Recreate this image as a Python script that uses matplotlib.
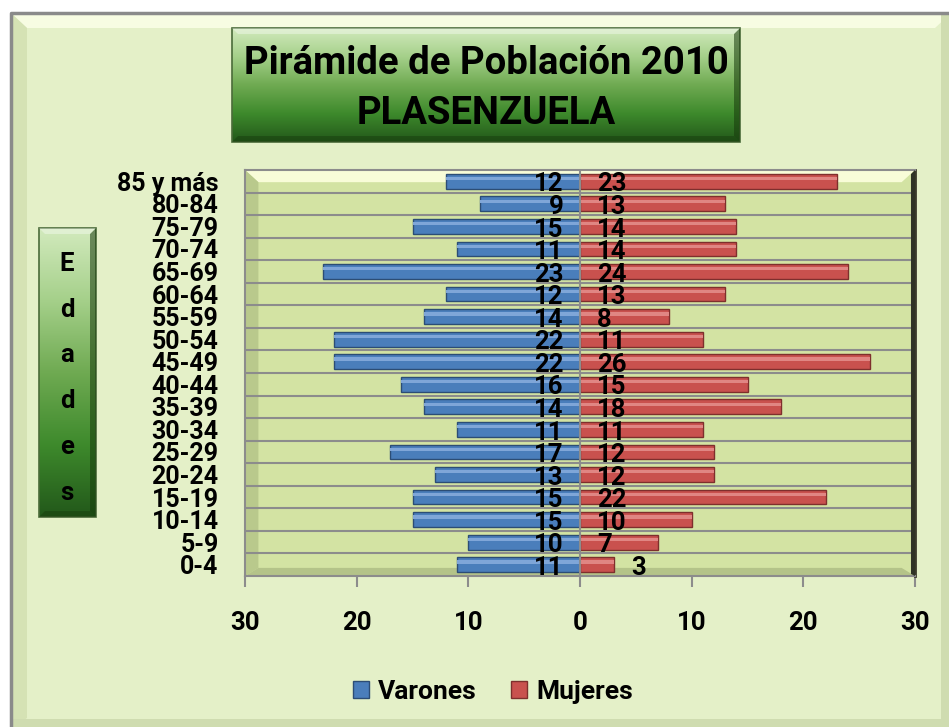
import numpy as np
import matplotlib.pyplot as plt
from matplotlib.colors import LinearSegmentedColormap
from matplotlib.patches import Rectangle, Polygon

FONT = ['Roboto', 'DejaVu Sans']
plt.rcParams['font.family'] = FONT
plt.rcParams['font.weight'] = 'bold'

# Data (bottom to top)
edades = ['0-4', '5-9', '10-14', '15-19', '20-24', '25-29', '30-34', '35-39',
          '40-44', '45-49', '50-54', '55-59', '60-64', '65-69', '70-74',
          '75-79', '80-84', '85 y más']
varones = [11, 10, 15, 15, 13, 17, 11, 14, 16, 22, 22, 14, 12, 23, 11, 15, 9, 12]
mujeres = [3, 7, 10, 22, 12, 12, 11, 18, 15, 26, 11, 8, 13, 24, 14, 14, 13, 23]
xticks = [-30, -20, -10, 0, 10, 20, 30]

W, H = 949, 727
fig = plt.figure(figsize=(W / 100, H / 100), dpi=100)
fig.patch.set_facecolor('white')

# background / decorations in pixel coords
bg = fig.add_axes([0, 0, 1, 1], zorder=-10)
bg.set_xlim(0, W)
bg.set_ylim(H, 0)
bg.axis('off')

bg.add_patch(Rectangle((11, 13), W - 11, H - 13, facecolor='#E4F0C8', edgecolor='none'))
bg.add_patch(Polygon([(13, 15), (W, 15), (W - 14, 28), (27, 28)], facecolor='#F7FCE2', edgecolor='none'))
bg.add_patch(Polygon([(13, 15), (27, 28), (27, H - 9), (13, H)], facecolor='#D5E2B4', edgecolor='none'))
bg.add_patch(Rectangle((W - 8, 15), 8, H - 15, facecolor='#CFDCB0', edgecolor='none'))
bg.add_patch(Rectangle((13, H - 8), W - 13, 8, facecolor='#CFDCB0', edgecolor='none'))
bg.plot([11, 11, W], [H, 13, 13], color='#8A8A8A', lw=2.5, solid_capstyle='butt')

green = LinearSegmentedColormap.from_list('g', ['#D2EABD', '#A5D08A', '#6FAA52', '#3E8A2C', '#22581A'])
grad = np.linspace(0, 1, 256).reshape(-1, 1)


def green_box(x0, x1, y0, y1):
    bg.imshow(grad, cmap=green, aspect='auto', extent=[x0, x1, y1, y0],
              origin='upper', zorder=1)
    bg.add_patch(Rectangle((x0, y0), x1 - x0, y1 - y0, facecolor='none',
                           edgecolor='#4B6B3A', lw=1.2, zorder=2))
    b = 6
    bg.add_patch(Polygon([(x1, y0), (x1, y1), (x1 - b, y1 - b), (x1 - b, y0 + b)],
                         facecolor='#173A0C', alpha=0.55, edgecolor='none', zorder=2))
    bg.add_patch(Polygon([(x0, y0), (x1, y0), (x1 - b, y0 + b), (x0 + b, y0 + b)],
                         facecolor='white', alpha=0.35, edgecolor='none', zorder=2))
    bg.add_patch(Polygon([(x0, y1), (x1, y1), (x1 - b, y1 - b), (x0 + b, y1 - b)],
                         facecolor='#173A0C', alpha=0.45, edgecolor='none', zorder=2))


green_box(232, 740, 28, 142)
green_box(39, 96, 228, 517)

bg.text(486, 64, 'Pirámide de Población 2010', ha='center', va='center',
        fontsize=27.5, fontweight='bold', color='black', zorder=3)
bg.text(486, 113, 'PLASENZUELA', ha='center', va='center',
        fontsize=27.5, fontweight='bold', color='black', zorder=3)
for i, ch in enumerate('Edades'):
    bg.text(67, 264 + i * 45.7, ch, ha='center', va='center',
            fontsize=18.5, fontweight='bold', color='black', zorder=3)

# main chart
ax = fig.add_axes([245 / W, 1 - 576 / H, 670 / W, 406 / H])
ax.set_facecolor('#D3E3A3')
y = np.arange(len(edades))
ax.set_xlim(-30, 30)
ax.set_ylim(-0.5, len(edades) - 0.5)

# plot area bevel
ax.add_patch(Polygon([(0, 1), (1, 1), (1 - 0.02, 1 - 0.03), (0.02, 1 - 0.03)],
                     transform=ax.transAxes, facecolor='#F8FCD8', edgecolor='none', zorder=0.5))
ax.add_patch(Polygon([(0, 1), (0.02, 1 - 0.03), (0.02, 0.02), (0, 0)],
                     transform=ax.transAxes, facecolor='#B9C98C', edgecolor='none', zorder=0.5))
ax.add_patch(Polygon([(1, 0), (1, 1), (1 - 0.006, 1 - 0.01), (1 - 0.006, 0.005)],
                     transform=ax.transAxes, facecolor='#2F3326', edgecolor='none', zorder=4))
ax.add_patch(Polygon([(0, 0), (1, 0), (1 - 0.02, 0.02), (0.02, 0.02)],
                     transform=ax.transAxes, facecolor='#B4C389', edgecolor='none', zorder=0.5))

for yy in y[:-1] + 0.5:
    ax.axhline(yy, color='#8C8C8C', lw=1.5, zorder=1)
ax.axvline(0, color='#8C8C8C', lw=1.5, zorder=2.5)

v = -np.array(varones)
m = np.array(mujeres)
bh = 0.66
ax.barh(y, v, height=bh, color='#4A7EBB', edgecolor='#2C4D75', lw=1, zorder=2)
ax.barh(y + bh * 0.18, v, height=bh * 0.22, color='#7FA6D8', edgecolor='none', zorder=2.1)
ax.barh(y, m, height=bh, color='#C9514E', edgecolor='#7E2F2D', lw=1, zorder=2)
ax.barh(y + bh * 0.18, m, height=bh * 0.22, color='#E08683', edgecolor='none', zorder=2.1)

for yi, val in zip(y, varones):
    ax.text(-1.5, yi - 0.14, str(val), ha='right', va='center',
            fontsize=18.5, fontweight='bold', zorder=3)
for yi, val in zip(y, mujeres):
    xpos = val + 1.6 if val < 4 else 1.5
    ax.text(xpos, yi - 0.14, str(val), ha='left', va='center',
            fontsize=18.5, fontweight='bold', zorder=3)

ax.set_xticks(xticks)
ax.set_xticklabels([str(abs(t)) for t in xticks], fontsize=18.5, fontweight='bold')
ax.set_yticks(y)
ax.set_yticklabels(edades, fontsize=18, fontweight='bold')
ax.tick_params(axis='x', length=8, width=1.5, color='#8C8C8C', pad=17)
ax.tick_params(axis='y', length=0, pad=19)
for s in ['left', 'top', 'bottom']:
    ax.spines[s].set_color('#8C8C8C')
    ax.spines[s].set_linewidth(1.5)
ax.spines['right'].set_color('#3A3A2A')
ax.spines['right'].set_linewidth(2)

# legend
h1 = Rectangle((0, 0), 1, 1, facecolor='#4A7EBB', edgecolor='#2C4D75')
h2 = Rectangle((0, 0), 1, 1, facecolor='#C9514E', edgecolor='#7E2F2D')
fig.legend([h1, h2], ['Varones', 'Mujeres'], loc='center',
           bbox_to_anchor=(493 / W, 1 - 692 / H), ncol=2, frameon=False,
           prop={'family': FONT, 'weight': 'bold', 'size': 19},
           handlelength=0.6, handleheight=0.6, handletextpad=0.35, columnspacing=1.3)

fig.savefig('out.png', dpi=100)
